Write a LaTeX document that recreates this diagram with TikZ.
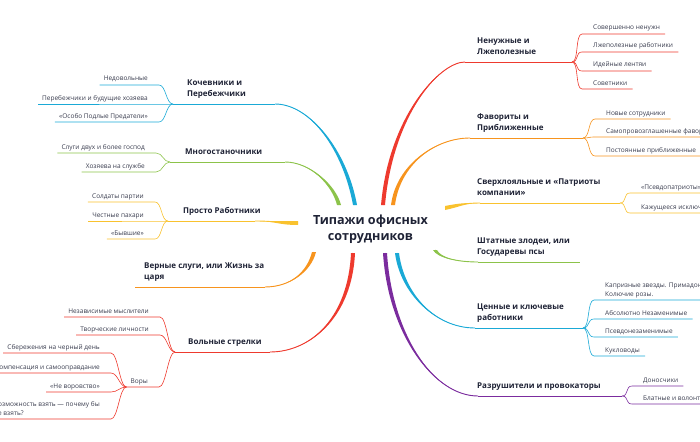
\documentclass[tikz,border=0pt]{standalone}
\usepackage{fontspec}
\setmainfont{Open Sans}
\usetikzlibrary{calc}

\definecolor{brred}{HTML}{EE3A2E}
\definecolor{brorange}{HTML}{F7941E}
\definecolor{bryellow}{HTML}{F9C22E}
\definecolor{brgreen}{HTML}{8CC34A}
\definecolor{brcyan}{HTML}{1AA9D6}
\definecolor{brpurple}{HTML}{7B2C9E}
\definecolor{ink}{HTML}{1E2235}
\definecolor{leafink}{HTML}{3A3D4F}

\tikzset{
  title/.style={font=\fontsize{12.6}{16.5}\selectfont\bfseries, align=center, text=ink, inner sep=0},
  head/.style={font=\fontsize{8}{11}\selectfont\bfseries, align=left, text=ink, inner sep=0, text depth=2.5pt},
  leaf/.style={font=\fontsize{6.5}{8.2}\selectfont, align=left, text=leafink, inner sep=0, text depth=1.8pt},
  limb/.style={line width=0.9pt},
  twig/.style={line width=0.6pt},
}

% tapered branch: start, end, control 1, control 2, shift key, colour
\newcommand{\mainbranch}[6]{%
  \fill[#6] ([#5=-2pt]#1) .. controls +#3 and +#4 .. (#2)
    .. controls +#4 and +#3 .. ([#5=2pt]#1) -- cycle;
  \draw[limb,#6] (#1) .. controls +#3 and +#4 .. (#2);}
% leaf on the right / on the left of its split point
\newcommand{\leafR}[3]{%
  \draw[twig,#3] (#1) .. controls +(7,0) and +(-7,0) .. ($(#2.south west)+(-11,2)$) -- ($(#2.south east)+(5,2)$);}
\newcommand{\leafL}[3]{%
  \draw[twig,#3] (#1) .. controls +(-7,0) and +(7,0) .. ($(#2.south east)+(11,2)$) -- ($(#2.south west)+(-4,2)$);}

\begin{document}
\begin{tikzpicture}[x=1pt,y=-1pt]
\useasboundingbox (0,0) rectangle (700,441);

\node[title] (title) at (370.5,229) {Типажи офисных\\сотрудников};

% branch points
\coordinate (kochevS) at (355,205);  \coordinate (kochevE) at (275,104);  \coordinate (kochevP) at (173,104);
\coordinate (mnogoS) at (339,205);   \coordinate (mnogoE) at (285,162);   \coordinate (mnogoP) at (170,162);
\coordinate (prostoS) at (298,223);  \coordinate (prostoE) at (255,221);  \coordinate (prostoP) at (168,221);
\coordinate (vernyeS) at (314,252);  \coordinate (vernyeE) at (265,287);  \coordinate (vernyeP) at (135,287);
\coordinate (volnyeS) at (353,253);  \coordinate (volnyeE) at (270,352);  \coordinate (volnyeP) at (175,352);
\coordinate (nenuzhS) at (383,205);  \coordinate (nenuzhE) at (465,62);   \coordinate (nenuzhP) at (572,62);
\coordinate (favorS) at (393,205);   \coordinate (favorE) at (470,138);   \coordinate (favorP) at (583,138);
\coordinate (sverhS) at (445,208);   \coordinate (sverhE) at (480,203);   \coordinate (sverhP) at (620,203);
\coordinate (shtatS) at (435,250);   \coordinate (shtatE) at (478,262);   \coordinate (shtatP) at (580,262);
\coordinate (cennyeS) at (397,253);  \coordinate (cennyeE) at (475,328);  \coordinate (cennyeP) at (583,328);
\coordinate (razrushS) at (385,253); \coordinate (razrushE) at (478,396); \coordinate (razrushP) at (622,396);

% main branches
\mainbranch{kochevS}{kochevE}{(-10,-55)}{(35,0)}{xshift}{brcyan}
\mainbranch{mnogoS}{mnogoE}{(-5,-20)}{(25,0)}{xshift}{brgreen}
\mainbranch{prostoS}{prostoE}{(-20,0)}{(20,0)}{yshift}{bryellow}
\mainbranch{vernyeS}{vernyeE}{(-5,20)}{(25,0)}{xshift}{brorange}
\mainbranch{volnyeS}{volnyeE}{(-3,65)}{(40,0)}{xshift}{brred}
\mainbranch{nenuzhS}{nenuzhE}{(8,-90)}{(-25,0)}{xshift}{brred}
\mainbranch{favorS}{favorE}{(5,-40)}{(-35,0)}{xshift}{brorange}
\mainbranch{sverhS}{sverhE}{(15,-3)}{(-15,0)}{yshift}{bryellow}
\mainbranch{shtatS}{shtatE}{(4,8)}{(-20,0)}{xshift}{brgreen}
\mainbranch{cennyeS}{cennyeE}{(5,40)}{(-40,0)}{xshift}{brcyan}
\mainbranch{razrushS}{razrushE}{(5,80)}{(-45,0)}{xshift}{brpurple}

\draw[limb,brcyan] (kochevE) -- (kochevP);
\draw[limb,brgreen] (mnogoE) -- (mnogoP);
\draw[limb,bryellow] (prostoE) -- (prostoP);
\draw[limb,brorange] (vernyeE) -- (vernyeP);
\draw[limb,brred] (volnyeE) -- (volnyeP);
\draw[limb,brred] (nenuzhE) -- (nenuzhP);
\draw[limb,brorange] (favorE) -- (favorP);
\draw[limb,bryellow] (sverhE) -- (sverhP);
\draw[limb,brgreen] (shtatE) -- (shtatP);
\draw[limb,brcyan] (cennyeE) -- (cennyeP);
\draw[limb,brpurple] (razrushE) -- (razrushP);

% headings
\node[head, anchor=south west] (kochev) at (187,99.5) {Кочевники и\\Перебежчики};
\node[head, anchor=south west] (mnogo) at (185,157.5) {Многостаночники};
\node[head, anchor=south west] (prosto) at (183,216.5) {Просто Работники};
\node[head, anchor=south west] (vernye) at (144,282.5) {Верные слуги, или Жизнь за\\царя};
\node[head, anchor=south west] (volnye) at (188,347.5) {Вольные стрелки};
\node[head, anchor=south west] (nenuzh) at (477,57.5) {Ненужные и\\Лжеполезные};
\node[head, anchor=south west] (favor) at (477,133.5) {Фавориты и\\Приближенные};
\node[head, anchor=south west] (sverh) at (477,198.5) {Сверхлояльные и «Патриоты\\компании»};
\node[head, anchor=south west] (shtat) at (477,257.5) {Штатные злодеи, или\\Государевы псы};
\node[head, anchor=south west] (cennye) at (477,323.5) {Ценные и ключевые\\работники};
\node[head, anchor=south west] (razrush) at (477,391.5) {Разрушители и провокаторы};

% leaves, left side
\node[leaf, anchor=south east] (k1) at (148,83) {Недовольные};
\node[leaf, anchor=south east] (k2) at (148,102) {Перебежчики и будущие хозяева};
\node[leaf, anchor=south east] (k3) at (148,120) {«Особо Подлые Предатели»};
\node[leaf, anchor=south east] (m1) at (145,151) {Слуги двух и более господ};
\node[leaf, anchor=south east] (m2) at (145,170) {Хозяева на службе};
\node[leaf, anchor=south east] (p1) at (144,200) {Солдаты партии};
\node[leaf, anchor=south east] (p2) at (144,219) {Честные пахари};
\node[leaf, anchor=south east] (p3) at (144,237) {«Бывшие»};
\node[leaf, anchor=south east] (v1) at (149,315) {Независимые мыслители};
\node[leaf, anchor=south east] (v2) at (149,333) {Творческие личности};
\node[leaf, anchor=south east] (vory) at (148,385) {Воры};
\node[leaf, anchor=south east] (w1) at (100,351) {Сбережения на черный день};
\node[leaf, anchor=south east] (w2) at (100,371) {Компенсация и самооправдание};
\node[leaf, anchor=south east] (w3) at (100,390) {«Не воровство»};
\node[leaf, anchor=south east] (w4) at (100,417) {Возможность взять — почему бы\\не взять?};

\leafL{kochevP}{k1}{brcyan}
\leafL{kochevP}{k2}{brcyan}
\leafL{kochevP}{k3}{brcyan}
\leafL{mnogoP}{m1}{brgreen}
\leafL{mnogoP}{m2}{brgreen}
\leafL{prostoP}{p1}{bryellow}
\leafL{prostoP}{p2}{bryellow}
\leafL{prostoP}{p3}{bryellow}
\leafL{volnyeP}{v1}{brred}
\leafL{volnyeP}{v2}{brred}
\leafL{volnyeP}{vory}{brred}
\coordinate (voryP) at ($(vory.south west)+(-4,2)$);
\leafL{voryP}{w1}{brred}
\leafL{voryP}{w2}{brred}
\leafL{voryP}{w3}{brred}
\leafL{voryP}{w4}{brred}

% leaves, right side
\node[leaf, anchor=south west] (n1) at (593,32) {Совершенно ненужн};
\node[leaf, anchor=south west] (n2) at (593,50) {Лжеполезные работники};
\node[leaf, anchor=south west] (n3) at (593,69) {Идейные лентяи};
\node[leaf, anchor=south west] (n4) at (593,87) {Советники};
\node[leaf, anchor=south west] (f1) at (606,117) {Новые сотрудники};
\node[leaf, anchor=south west] (f2) at (606,135) {Самопровозглашенные фаворит};
\node[leaf, anchor=south west] (f3) at (606,154) {Постоянные приближенные};
\node[leaf, anchor=south west] (s1) at (641,191) {«Псевдопатриоты»};
\node[leaf, anchor=south west] (s2) at (641,211) {Кажущееся исключ};
\node[leaf, anchor=south west] (c1) at (605,298) {Капризные звезды. Примадон\\Колючие розы.};
\node[leaf, anchor=south west] (c2) at (605,317) {Абсолютно Незаменимые};
\node[leaf, anchor=south west] (c3) at (605,335) {Псевдонезаменимые};
\node[leaf, anchor=south west] (c4) at (605,354) {Кукловоды};
\node[leaf, anchor=south west] (r1) at (643,384) {Доносчики};
\node[leaf, anchor=south west] (r2) at (643,402) {Блатные и волонт};

\leafR{nenuzhP}{n1}{brred}
\leafR{nenuzhP}{n2}{brred}
\leafR{nenuzhP}{n3}{brred}
\leafR{nenuzhP}{n4}{brred}
\leafR{favorP}{f1}{brorange}
\leafR{favorP}{f2}{brorange}
\leafR{favorP}{f3}{brorange}
\leafR{sverhP}{s1}{bryellow}
\leafR{sverhP}{s2}{bryellow}
\leafR{cennyeP}{c1}{brcyan}
\leafR{cennyeP}{c2}{brcyan}
\leafR{cennyeP}{c3}{brcyan}
\leafR{cennyeP}{c4}{brcyan}
\leafR{razrushP}{r1}{brpurple}
\leafR{razrushP}{r2}{brpurple}
\end{tikzpicture}
\end{document}
